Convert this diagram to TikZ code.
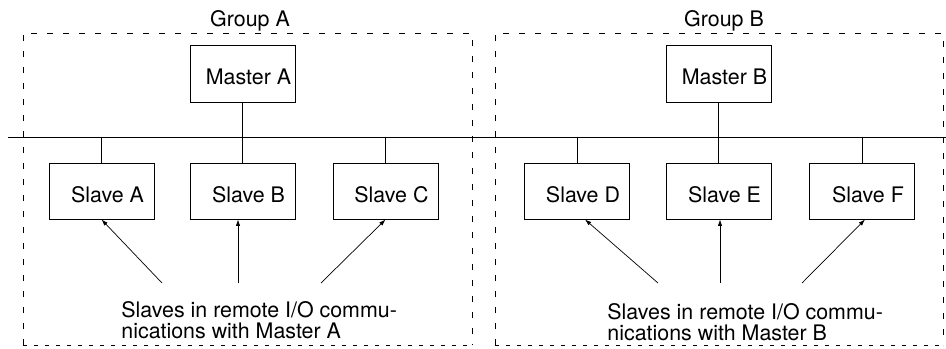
\documentclass[tikz,border=0pt]{standalone}
\usepackage{fontspec}
\setmainfont{TeX Gyre Heros}
\usetikzlibrary{arrows.meta}
\tikzset{
  unit/.style={draw, line width=0.5pt, minimum width=52.5pt, minimum height=28pt,
    inner sep=0pt, text height=11.5pt, execute at begin node={\hspace*{6pt}}},
  group/.style={line width=0.5pt, dash pattern=on 2.8pt off 5.2pt},
  groupbase/.style={line width=0.5pt, dash pattern=on 2pt off 3.5pt},
  wire/.style={line width=0.5pt},
  pointer/.style={line width=0.35pt, -{Latex[length=3.2pt,width=2.2pt]}},
  note/.style={anchor=north west, align=left, inner sep=0pt}
}
\begin{document}
\begin{tikzpicture}[x=0.5pt,y=-0.5pt,
    every node/.style={font=\fontsize{10.7}{10.8}\selectfont}]
    \useasboundingbox (0,0) rectangle (946,348);
    \draw[group] (23,345) -- (23,33) -- (472,33) -- (472,345);
    \draw[groupbase] (23,345) -- (472,345);
    \draw[group] (495,345) -- (495,33) -- (943,33) -- (943,345);
    \draw[groupbase] (495,345) -- (943,345);
    \node[anchor=base] (groupA) at (250,26) {Group A};
    \node[anchor=base] (groupB) at (724,26) {Group B};
    \node[unit, minimum height=28.5pt] (masterA) at (242.5,73.5) {Master A};
    \node[unit, minimum height=28.5pt] (masterB) at (718.5,73.5) {Master B};
    \node[unit] (slaveA) at (101.5,191) {Slave A};
    \node[unit] (slaveB) at (242.5,191) {Slave B};
    \node[unit] (slaveC) at (385.5,191) {Slave C};
    \node[unit] (slaveD) at (577,191) {Slave D};
    \node[unit] (slaveE) at (718.5,191) {Slave E};
    \node[unit] (slaveF) at (862,191) {Slave F};
    \coordinate (busL) at (8,137);
    \coordinate (busR) at (946,137);
    \draw[wire] (busL) -- (busR);
    \foreach \u in {masterA,masterB,slaveA,slaveB,slaveC,slaveD,slaveE,slaveF}
      \draw[wire] (\u) -- (\u |- busL);
    \coordinate (tailA) at (162,283);
    \coordinate (tailB) at (238,283);
    \coordinate (tailC) at (321,283);
    \coordinate (tailD) at (658,283);
    \coordinate (tailE) at (720,283);
    \coordinate (tailF) at (802,283);
    \draw[pointer] (tailA) -- (slaveA.south);
    \draw[pointer] (tailB) -- (tailB |- slaveB.south);
    \draw[pointer] (tailC) -- (slaveC.south);
    \draw[pointer] (tailD) -- ([xshift=4pt]slaveD.south);
    \draw[pointer] (tailE) -- (tailE |- slaveE.south);
    \draw[pointer] (tailF) -- ([xshift=1.5pt]slaveF.south);
    \node[note] (noteA) at (121,301) {Slaves in remote I/O commu-\\nications with Master A};
    \node[note] (noteB) at (607,303) {Slaves in remote I/O commu-\\nications with Master B};
  \end{tikzpicture}
\end{document}
